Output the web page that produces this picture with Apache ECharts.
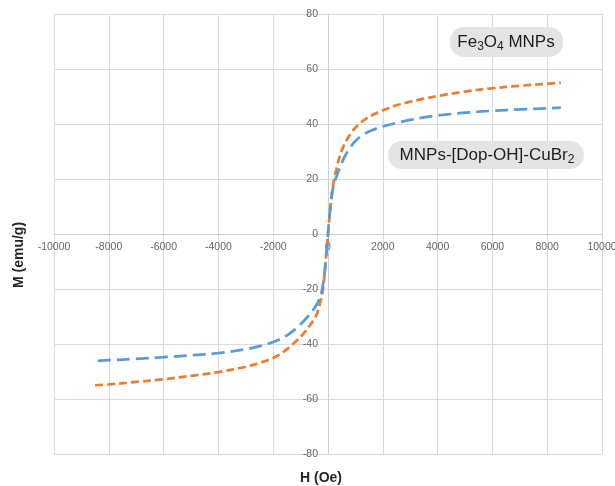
<!DOCTYPE html>
<html>
<head>
<meta charset="utf-8">
<script src="https://cdn.jsdelivr.net/npm/echarts@6/dist/echarts.min.js"></script>
<style>
html,body{margin:0;padding:0;background:#fff;}
#chart{width:615px;height:486px;}
</style>
</head>
<body>
<div id="chart"></div>
<script>
// Fe3O4 MNPs (orange)
const feH = [-8500,-8000,-7000,-6000,-5000,-4000,-3000,-2500,-2000,-1700,-1400,-1100,-900,-700,-550,-425,-300,-200,-120,-60,0,60,120,180,250,330,430,550,700,900,1100,1300,1600,2000,2500,3000,3500,4000,5000,6000,7000,8000,8500];
const feM = [-55.0,-54.7,-53.8,-52.8,-51.6,-50.2,-48.3,-46.9,-45.1,-43.4,-41.1,-38.4,-36.3,-33.8,-31.6,-29.5,-25.5,-21.0,-14.0,-7.0,0,7.0,13.0,17.5,21.0,24.5,28.3,31.5,34.5,37.5,39.7,41.3,43.2,45.0,46.8,48.1,49.2,50.2,51.8,53.0,53.9,54.6,55.0];
// MNPs-[Dop-OH]-CuBr2 (blue)
const cuH = [-8400,-8000,-7000,-6000,-5000,-4000,-3000,-2500,-2000,-1700,-1400,-1100,-900,-700,-500,-350,-220,-120,-60,0,60,120,180,260,370,480,600,800,1000,1300,1600,2000,2500,3000,3500,4000,5000,6000,7000,8000,8500];
const cuM = [-46.1,-45.9,-45.4,-44.8,-44.1,-43.3,-41.9,-40.8,-39.3,-38.0,-36.2,-33.8,-31.8,-29.6,-27.0,-24.5,-20.5,-13.5,-7.0,0,7.0,12.5,16.5,19.5,22.5,25.3,28.0,31.3,33.8,36.2,37.7,39.1,40.4,41.5,42.4,43.1,44.1,44.8,45.3,45.7,46.0];
const xTicks = {min:-10000, max:10000, step:2000};
const yTicks = {min:-80, max:80, step:20};
const seriesNames = ['Fe3O4 MNPs','MNPs-[Dop-OH]-CuBr2'];

const zip = (a,b) => a.map((v,i)=>[v,b[i]]);
const font = 'Liberation Sans, Arial, sans-serif';
const W = 615, H = 486;
const grid = {left:54, right:13, top:14, bottom:32};
const gw = W - grid.left - grid.right, gh = H - grid.top - grid.bottom;
// distance from the grid edges to the zero lines (axes cross at zero)
const yZeroFromBottom = gh * (0 - yTicks.min) / (yTicks.max - yTicks.min);
const xZeroFromLeft = gw * (0 - xTicks.min) / (xTicks.max - xTicks.min);

const chart = echarts.init(document.getElementById('chart'), null, {renderer:'canvas'});
chart.setOption({
  animation:false,
  backgroundColor:'#fff',
  grid:Object.assign({containLabel:false, outerBoundsMode:'none'}, grid),
  xAxis:{
    type:'value', min:xTicks.min, max:xTicks.max, interval:xTicks.step,
    position:'bottom', offset:-yZeroFromBottom,
    axisLine:{onZero:false, lineStyle:{color:'#cfcfcf', width:1}},
    axisTick:{show:false},
    axisLabel:{color:'#666666', fontSize:10.5, fontFamily:font, margin:8, formatter:v=>String(v)},
    splitLine:{show:true, lineStyle:{color:'#dadada', width:1}}
  },
  yAxis:{
    type:'value', min:yTicks.min, max:yTicks.max, interval:yTicks.step,
    position:'left', offset:-xZeroFromLeft,
    axisLine:{onZero:false, lineStyle:{color:'#cfcfcf', width:1}},
    axisTick:{show:false},
    axisLabel:{color:'#666666', fontSize:10.5, fontFamily:font, margin:10, formatter:v=>String(v)},
    splitLine:{show:true, lineStyle:{color:'#dadada', width:1}}
  },
  series:[
    {name:seriesNames[0], type:'line', data:zip(feH,feM), showSymbol:false, smooth:0.35,
     lineStyle:{color:'#ED7D31', width:2.75, type:[8,4]}, z:3},
    {name:seriesNames[1], type:'line', data:zip(cuH,cuM), showSymbol:false, smooth:0.35,
     lineStyle:{color:'#5B9BD5', width:2.75, type:[13,6]}, z:4}
  ],
  graphic:[
    {type:'rect', shape:{x:450,y:27,width:113,height:30,r:14}, style:{fill:'#e4e4e4'}, z:10},
    {type:'text', x:506, y:42, z:11, style:{
      text:'{a|Fe}{s|3}{a|O}{s|4}{a| MNPs}', align:'center', verticalAlign:'middle',
      rich:{a:{fontSize:17, fontFamily:font, fill:'#1e1e1e', lineHeight:22, verticalAlign:'middle'},
            s:{fontSize:12, fontFamily:font, fill:'#1e1e1e', lineHeight:12, verticalAlign:'bottom'}}}},
    {type:'rect', shape:{x:388,y:141,width:196,height:28,r:14}, style:{fill:'#e4e4e4'}, z:10},
    {type:'text', x:487, y:155, z:11, style:{
      text:'{a|MNPs-[Dop-OH]-CuBr}{s|2}', align:'center', verticalAlign:'middle',
      rich:{a:{fontSize:17, fontFamily:font, fill:'#1e1e1e', lineHeight:22, verticalAlign:'middle'},
            s:{fontSize:12, fontFamily:font, fill:'#1e1e1e', lineHeight:12, verticalAlign:'bottom'}}}},
    {type:'text', x:321, y:478, z:11, style:{text:'H (Oe)', align:'center', verticalAlign:'middle',
      font:'bold 14px '+font, fill:'#262626'}},
    {type:'text', x:19, y:255, rotation:Math.PI/2, z:11, style:{text:'M (emu/g)', align:'center', verticalAlign:'middle',
      font:'bold 14px '+font, fill:'#262626'}}
  ]
});
</script>
</body>
</html>
